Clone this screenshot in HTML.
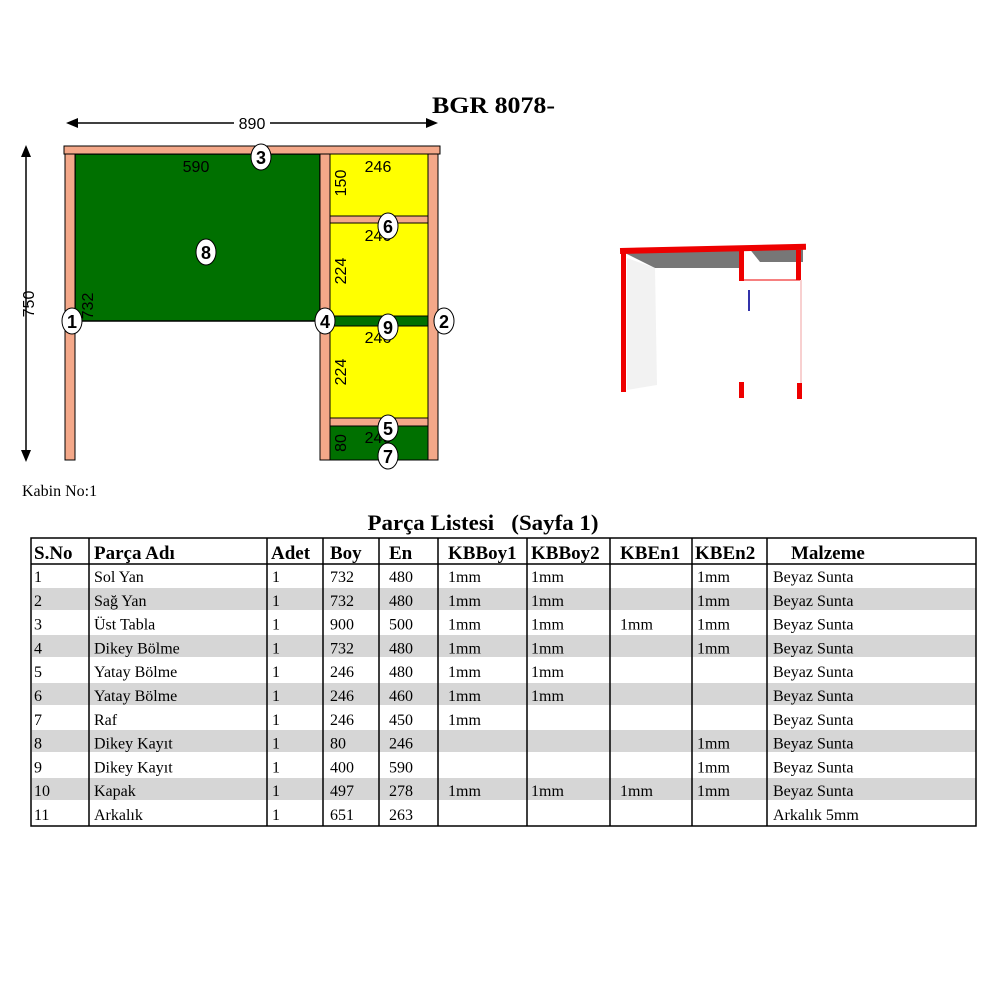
<!DOCTYPE html>
<html><head><meta charset="utf-8"><style>
html,body{margin:0;padding:0;background:#fff;width:1000px;height:1000px;overflow:hidden}
svg{display:block}
.s{font-family:"Liberation Sans",sans-serif}
.t{font-family:"Liberation Serif",serif}
</style></head><body>
<svg width="1000" height="1000" viewBox="0 0 1000 1000" xmlns="http://www.w3.org/2000/svg">
<text x="432" y="113" class="t" font-size="23" font-weight="bold" textLength="123" lengthAdjust="spacingAndGlyphs">BGR 8078-</text>
<!-- dims -->
<line x1="72" y1="123" x2="430" y2="123" stroke="#000" stroke-width="1.5"/>
<path d="M66,123 l12,-5 v10 z M438,123 l-12,-5 v10 z" fill="#000"/>
<rect x="234" y="114" width="36" height="14" fill="#fff"/>
<text x="252" y="129" class="s" font-size="16" text-anchor="middle">890</text>
<line x1="26" y1="150" x2="26" y2="458" stroke="#000" stroke-width="1.5"/>
<path d="M26,145 l-5,12 h10 z M26,462 l-5,-12 h10 z" fill="#000"/>
<text x="0" y="0" class="s" font-size="16" text-anchor="middle" transform="translate(34,304) rotate(-90)">750</text>
<!-- panels -->
<rect x="75" y="154" width="245" height="167" fill="#007000" stroke="#000" stroke-width="1.5"/>
<rect x="330" y="154" width="98" height="272" fill="#ffff00" stroke="#000" stroke-width="1"/>
<rect x="330" y="426" width="98" height="34" fill="#007000" stroke="#000" stroke-width="1"/>
<rect x="330" y="316" width="98" height="10" fill="#007000" stroke="#000" stroke-width="1"/>
<rect x="64" y="146" width="376" height="8" fill="#f4a889" stroke="#000" stroke-width="1"/>
<rect x="65" y="154" width="10" height="306" fill="#f4a889" stroke="#000" stroke-width="1"/>
<rect x="320" y="154" width="10" height="306" fill="#f4a889" stroke="#000" stroke-width="1"/>
<rect x="428" y="154" width="10" height="306" fill="#f4a889" stroke="#000" stroke-width="1"/>
<rect x="330" y="216" width="98" height="7" fill="#f4a889" stroke="#000" stroke-width="1"/>
<rect x="330" y="418" width="98" height="8" fill="#f4a889" stroke="#000" stroke-width="1"/>
<g class="s" font-size="16" fill="#000">
<text x="196" y="172" text-anchor="middle">590</text>
<text x="378" y="172" text-anchor="middle">246</text>
<text x="378" y="241" text-anchor="middle">246</text>
<text x="378" y="343" text-anchor="middle">246</text>
<text x="378" y="443" text-anchor="middle">246</text>
<text transform="translate(346,183) rotate(-90)" text-anchor="middle">150</text>
<text transform="translate(346,271) rotate(-90)" text-anchor="middle">224</text>
<text transform="translate(346,372) rotate(-90)" text-anchor="middle">224</text>
<text transform="translate(346,443) rotate(-90)" text-anchor="middle">80</text>
<text transform="translate(93,306) rotate(-90)" text-anchor="middle">732</text>
</g>
<g class="s" font-size="18" font-weight="bold" text-anchor="middle">
<g><ellipse cx="261" cy="157" rx="10" ry="13" fill="#fff" stroke="#000"/><text x="261" y="164">3</text></g>
<g><ellipse cx="206" cy="252" rx="10" ry="13" fill="#fff" stroke="#000"/><text x="206" y="259">8</text></g>
<g><ellipse cx="72" cy="321" rx="10" ry="13" fill="#fff" stroke="#000"/><text x="72" y="328">1</text></g>
<g><ellipse cx="325" cy="321" rx="10" ry="13" fill="#fff" stroke="#000"/><text x="325" y="328">4</text></g>
<g><ellipse cx="444" cy="321" rx="10" ry="13" fill="#fff" stroke="#000"/><text x="444" y="328">2</text></g>
<g><ellipse cx="388" cy="226" rx="10" ry="13" fill="#fff" stroke="#000"/><text x="388" y="233">6</text></g>
<g><ellipse cx="388" cy="327" rx="10" ry="13" fill="#fff" stroke="#000"/><text x="388" y="334">9</text></g>
<g><ellipse cx="388" cy="428" rx="10" ry="13" fill="#fff" stroke="#000"/><text x="388" y="435">5</text></g>
<g><ellipse cx="388" cy="456" rx="10" ry="13" fill="#fff" stroke="#000"/><text x="388" y="463">7</text></g>
</g>
<!-- 3D view -->
<polygon points="625,253 740,247 740,268 655,268" fill="#777"/>
<polygon points="748,247 803,245 803,262 760,262" fill="#777"/>
<polygon points="627,258 655,268 657,385 627,390" fill="#f2f2f2"/>
<rect x="620" y="248" width="186" height="6" fill="#e00" transform="rotate(-1.3 620 250)"/>
<rect x="621" y="252" width="5" height="140" fill="#e00"/>
<rect x="739" y="250" width="5" height="31" fill="#e00"/>
<rect x="796" y="250" width="5" height="30" fill="#e00"/>
<line x1="742" y1="280" x2="800" y2="280" stroke="#e00" stroke-width="1"/>
<line x1="801" y1="280" x2="801" y2="385" stroke="#f0a0a0" stroke-width="1"/>
<line x1="749" y1="290" x2="749" y2="311" stroke="#33a" stroke-width="2"/>
<rect x="739" y="382" width="5" height="16" fill="#e00"/>
<rect x="797" y="383" width="5" height="16" fill="#e00"/>
<!-- table -->
<text x="22" y="496" class="t" font-size="16">Kabin No:1</text>
<text x="483" y="530" class="t" font-size="22" font-weight="bold" text-anchor="middle" textLength="231" lengthAdjust="spacingAndGlyphs">Parça Listesi&#160;&#160; (Sayfa 1)</text>
<g fill="#d6d6d6">
<rect x="32" y="588" width="944" height="22"/>
<rect x="32" y="635" width="944" height="22"/>
<rect x="32" y="683" width="944" height="22"/>
<rect x="32" y="730" width="944" height="22"/>
<rect x="32" y="778" width="944" height="22"/>
</g>
<g stroke="#000" stroke-width="1.5" fill="none">
<rect x="31" y="538" width="945" height="288"/>
<line x1="31" y1="564" x2="976" y2="564"/>
<line x1="89" y1="538" x2="89" y2="826"/>
<line x1="267" y1="538" x2="267" y2="826"/>
<line x1="323" y1="538" x2="323" y2="826"/>
<line x1="379" y1="538" x2="379" y2="826"/>
<line x1="438" y1="538" x2="438" y2="826"/>
<line x1="527" y1="538" x2="527" y2="826"/>
<line x1="610" y1="538" x2="610" y2="826"/>
<line x1="692" y1="538" x2="692" y2="826"/>
<line x1="767" y1="538" x2="767" y2="826"/>
</g>
<g class="t" font-size="19" font-weight="bold">
<text x="34" y="559">S.No</text><text x="94" y="559">Parça Adı</text><text x="271" y="559">Adet</text><text x="330" y="559">Boy</text><text x="389" y="559">En</text><text x="448" y="559">KBBoy1</text><text x="531" y="559">KBBoy2</text><text x="620" y="559">KBEn1</text><text x="695" y="559">KBEn2</text><text x="791" y="559">Malzeme</text>
</g>
<g class="t" font-size="16">
<g transform="translate(0,582)"><text x="34">1</text><text x="94">Sol Yan</text><text x="272">1</text><text x="330">732</text><text x="389">480</text><text x="448">1mm</text><text x="531">1mm</text><text x="697">1mm</text><text x="773">Beyaz Sunta</text></g>
<g transform="translate(0,605.8)"><text x="34">2</text><text x="94">Sağ Yan</text><text x="272">1</text><text x="330">732</text><text x="389">480</text><text x="448">1mm</text><text x="531">1mm</text><text x="697">1mm</text><text x="773">Beyaz Sunta</text></g>
<g transform="translate(0,629.6)"><text x="34">3</text><text x="94">Üst Tabla</text><text x="272">1</text><text x="330">900</text><text x="389">500</text><text x="448">1mm</text><text x="531">1mm</text><text x="620">1mm</text><text x="697">1mm</text><text x="773">Beyaz Sunta</text></g>
<g transform="translate(0,653.4)"><text x="34">4</text><text x="94">Dikey Bölme</text><text x="272">1</text><text x="330">732</text><text x="389">480</text><text x="448">1mm</text><text x="531">1mm</text><text x="697">1mm</text><text x="773">Beyaz Sunta</text></g>
<g transform="translate(0,677.2)"><text x="34">5</text><text x="94">Yatay Bölme</text><text x="272">1</text><text x="330">246</text><text x="389">480</text><text x="448">1mm</text><text x="531">1mm</text><text x="773">Beyaz Sunta</text></g>
<g transform="translate(0,701)"><text x="34">6</text><text x="94">Yatay Bölme</text><text x="272">1</text><text x="330">246</text><text x="389">460</text><text x="448">1mm</text><text x="531">1mm</text><text x="773">Beyaz Sunta</text></g>
<g transform="translate(0,724.8)"><text x="34">7</text><text x="94">Raf</text><text x="272">1</text><text x="330">246</text><text x="389">450</text><text x="448">1mm</text><text x="773">Beyaz Sunta</text></g>
<g transform="translate(0,748.6)"><text x="34">8</text><text x="94">Dikey Kayıt</text><text x="272">1</text><text x="330">80</text><text x="389">246</text><text x="697">1mm</text><text x="773">Beyaz Sunta</text></g>
<g transform="translate(0,772.4)"><text x="34">9</text><text x="94">Dikey Kayıt</text><text x="272">1</text><text x="330">400</text><text x="389">590</text><text x="697">1mm</text><text x="773">Beyaz Sunta</text></g>
<g transform="translate(0,796.2)"><text x="34">10</text><text x="94">Kapak</text><text x="272">1</text><text x="330">497</text><text x="389">278</text><text x="448">1mm</text><text x="531">1mm</text><text x="620">1mm</text><text x="697">1mm</text><text x="773">Beyaz Sunta</text></g>
<g transform="translate(0,820)"><text x="34">11</text><text x="94">Arkalık</text><text x="272">1</text><text x="330">651</text><text x="389">263</text><text x="773">Arkalık 5mm</text></g>
</g>
</svg>
</body></html>
